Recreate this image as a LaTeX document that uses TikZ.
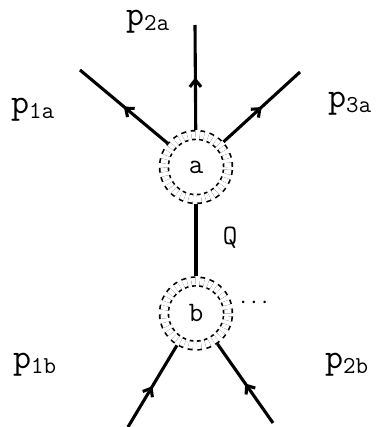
\documentclass[tikz,border=0pt]{standalone}
\usepackage{amsmath}
\usetikzlibrary{arrows.meta, positioning, decorations.markings}

\begin{document}
\begin{tikzpicture}[
        x=0.025cm, y=-0.025cm,
        vertex/.style={circle, draw, dashed, double, double distance=5pt,
                       line width=1.2pt, minimum size=1.6cm, outer sep=3.7pt,
                       font=\ttfamily\fontsize{20}{22}\selectfont},
        leg/.style={line width=2.2pt, postaction={decorate},
                    decoration={markings, mark=at position 0.5 with
                      {\arrow{Straight Barb[length=5pt, width=8pt]}}}},
        mom/.style={font=\fontsize{24}{26}\selectfont}
      ]
      \useasboundingbox (0,0) rectangle (383,427);

      \node[vertex] (a) at (196,167) {a};
      \node[vertex] (b) [below=1.8cm of a] {b};

      % free ends of the external lines
      \coordinate (e1a) at (80,70);
      \coordinate (e2a) at (195,25);
      \coordinate (e3a) at (300,72);
      \coordinate (e1b) at (128,427);
      \coordinate (e2b) at (273,423);

      \draw[leg] (a) -- (e1a);
      \draw[leg] (a) -- (e2a);
      \draw[leg] (a) -- (e3a);
      \draw[leg] (e1b) -- (b);
      \draw[leg] (e2b) -- (b);
      \draw[line width=2.2pt] (a) -- (b);

      \node[mom] (p1a) at (33,110) {$\mathtt{p}_{\mathtt{1a}}$};
      \node[mom] (p2a) at (148,22) {$\mathtt{p}_{\mathtt{2a}}$};
      \node[mom] (p3a) at (350,104) {$\mathtt{p}_{\mathtt{3a}}$};
      \node[mom] (p1b) at (35,365) {$\mathtt{p}_{\mathtt{1b}}$};
      \node[mom] (p2b) at (347,365) {$\mathtt{p}_{\mathtt{2b}}$};
      \node[font=\ttfamily\fontsize{20}{22}\selectfont] (q) at (230,238) {Q};
      \node[font=\fontsize{16}{18}\selectfont] (dots) at (256,303) {$\cdots$};
    \end{tikzpicture}
\end{document}
